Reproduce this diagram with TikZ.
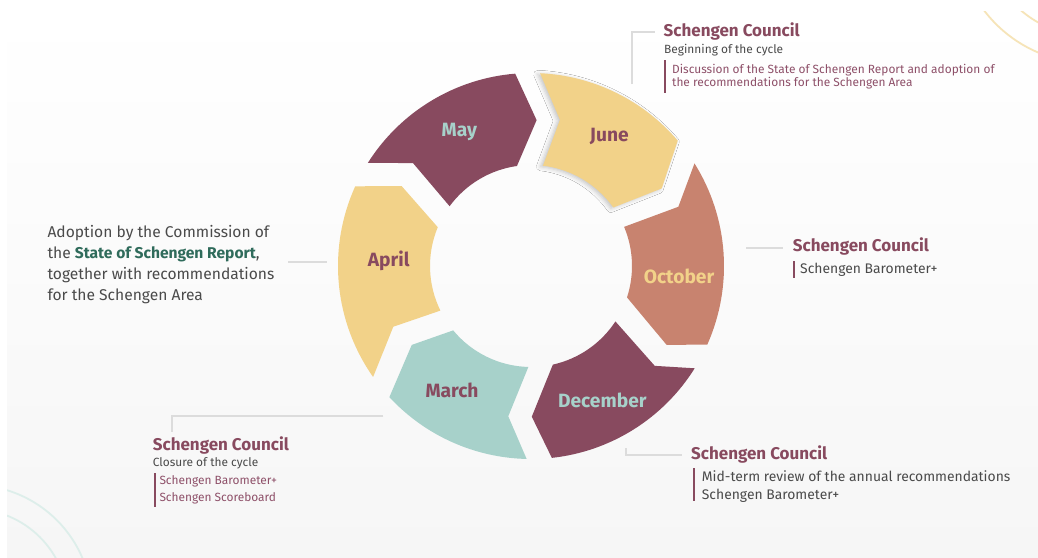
\documentclass[tikz,border=0pt]{standalone}
\usepackage{fontspec}
\setmainfont{Fira Sans}
\usetikzlibrary{shadows.blur}
\definecolor{purpleD}{HTML}{884A5F}
\definecolor{yellowS}{HTML}{F2D289}
\definecolor{salmonO}{HTML}{C8836F}
\definecolor{tealM}{HTML}{A7D1CA}
\definecolor{grayline}{HTML}{DCDCDC}
\definecolor{textgray}{HTML}{4A4A4A}
\definecolor{textpurple}{HTML}{8E5069}
\definecolor{greenS}{HTML}{2F6B5B}
\definecolor{bgGray}{HTML}{F6F6F6}
\definecolor{decoY}{HTML}{F6E4B8}
\definecolor{decoT}{HTML}{DDEEEA}
\tikzset{
  mlabel/.style={font=\bfseries\fontsize{19.2}{21}\selectfont, inner sep=0pt},
  ctitle/.style={font=\bfseries\fontsize{17}{19}\selectfont, text=purpleD, inner sep=0pt, anchor=base west},
  cnote/.style={font=\fontsize{11.9}{14}\selectfont, inner sep=0pt, anchor=base west},
  cbody/.style={font=\fontsize{13.9}{16}\selectfont, text=textgray, inner sep=0pt, anchor=base west},
  cleft/.style={font=\fontsize{15.6}{18}\selectfont, text=textgray, inner sep=0pt, anchor=base west},
  cconn/.style={draw=grayline, line width=1.8pt},
  cbar/.style={draw=purpleD, line width=2.2pt},
  cdeco/.style={line width=1.8pt},
  segshape/.style={line join=round},
}
\begin{document}
\begin{tikzpicture}[x=1pt, y=1pt, yscale=-1]
\useasboundingbox (0,0) rectangle (1038,557);
\fill[white] (0,0) rectangle (1038,557);
\shade[top color=white, bottom color=bgGray] (7,11) rectangle (1038,557);
% decorations
\begin{scope}
  \clip (7,11) rectangle (1038,557);
  \draw[cdeco, decoY] (1090,-70) circle[radius=133];
  \draw[cdeco, decoY] (1090,-70) circle[radius=106];
  \draw[cdeco, decoT] (-28,605) circle[radius=120];
  \draw[cdeco, decoT] (-28,605) circle[radius=96];
\end{scope}
% ring
\begin{scope}[shift={(531,266)}, yscale=-1]
  \fill[segshape, purpleD] (147.7:193) arc[start angle=147.7, end angle=94.7, radius=193]
     -- (87.8:146) -- (98:101) arc[start angle=98, end angle=143.7, radius=101]
     -- (138.9:156.6) -- cycle;
  \fill[segshape, yellowS, blur shadow={shadow xshift=-2.5pt, shadow yshift=-1pt, shadow opacity=22, shadow blur radius=4pt}]
     (87.3:193) arc[start angle=87.3, end angle=40.5, radius=193]
     -- (30.7:152) -- (35.4:101) arc[start angle=35.4, end angle=83.2, radius=101]
     -- (78.8:149) -- cycle;
  \fill[segshape, salmonO] (32.1:193) arc[start angle=32.1, end angle=-24, radius=193]
     -- (-30.2:157) -- (-18.1:101) arc[start angle=-18.1, end angle=22.8, radius=101]
     -- (21.9:158.8) -- cycle;
  \fill[segshape, purpleD] (-32:193) arc[start angle=-32, end angle=-83.8, radius=193]
     -- (-89.7:150.7) -- (-77.5:101) arc[start angle=-77.5, end angle=-33.3, radius=101]
     -- (-38.9:159) -- cycle;
  \fill[segshape, tealM] (-91.3:193) arc[start angle=-91.3, end angle=-137.2, radius=193]
     -- (-146.5:143) -- (-140.4:101) arc[start angle=-140.4, end angle=-91.5, radius=101]
     -- (-98.6:152) -- cycle;
  \fill[segshape, yellowS] (-144.9:193) arc[start angle=-144.9, end angle=-204.4, radius=193]
     -- (-211.7:152) -- (-202.6:101) arc[start angle=-202.6, end angle=-153.8, radius=101]
     -- (-156.2:150.5) -- cycle;
\end{scope}
% month labels
\node[mlabel, text=tealM] (may) at (459.3,131.7) {May};
\node[mlabel, text=purpleD] (june) at (609.3,136.7) {June};
\node[mlabel, text=purpleD] (april) at (388.7,261) {April};
\node[mlabel, text=yellowS] (october) at (679,276.7) {October};
\node[mlabel, text=purpleD] (march) at (452,390) {March};
\node[mlabel, text=tealM] (december) at (602.3,400) {December};
% top right annotation (June)
\coordinate (jA) at (632.3,84);
\coordinate (jB) at (655,31.7);
\draw[cconn] (jA) |- (jB);
\node[ctitle] (jt) at (663.5,36) {Schengen Council};
\node[cnote, text=textgray] (jn) at (664,53.3) {Beginning of the cycle};
\coordinate (jb1) at (664.8,60);
\coordinate (jb2) at (664.8,93);
\draw[cbar] (jb1) -- (jb2);
\node[cnote, text=textpurple] (jd1) at (672,73.3) {Discussion of the State of Schengen Report and adoption of};
\node[cnote, text=textpurple] (jd2) at (672,86.7) {the recommendations for the Schengen Area};
% left annotation (April)
\node[cleft] (a1) at (47.3,237.3) {Adoption by the Commission of};
\node[cleft] (a2) at (47.3,258.2) {the \textbf{\color{greenS}State of Schengen Report},};
\node[cleft] (a3) at (47.3,279.1) {together with recommendations};
\node[cleft] (a4) at (47.3,300) {for the Schengen Area};
\coordinate (aA) at (288,261.7);
\coordinate (aB) at (326.7,261.7);
\draw[cconn] (aA) -- (aB);
% right annotation (October)
\coordinate (oA) at (746,248.3);
\coordinate (oB) at (783.3,248.3);
\draw[cconn] (oA) -- (oB);
\node[ctitle] (ot) at (792.7,251.7) {Schengen Council};
\coordinate (ob1) at (794,261);
\coordinate (ob2) at (794,278);
\draw[cbar] (ob1) -- (ob2);
\node[cbody] (od) at (800,273.3) {Schengen Barometer+};
% bottom right annotation (December)
\coordinate (dA) at (626,448.3);
\coordinate (dB) at (681.7,455);
\draw[cconn] (dA) |- (dB);
\node[ctitle] (dt) at (691,459.3) {Schengen Council};
\coordinate (db1) at (694.3,468.3);
\coordinate (db2) at (694.3,501);
\draw[cbar] (db1) -- (db2);
\node[cbody] (dd1) at (701.7,481) {Mid-term review of the annual recommendations};
\node[cbody] (dd2) at (701.7,499.3) {Schengen Barometer+};
% bottom left annotation (March)
\coordinate (mA) at (383.3,416);
\coordinate (mB) at (171.7,431.7);
\draw[cconn] (mA) -| (mB);
\node[ctitle] (mt) at (152.7,450) {Schengen Council};
\node[cnote, text=textgray] (mn) at (152.7,466) {Closure of the cycle};
\coordinate (mb1) at (155.3,473);
\coordinate (mb2) at (155.3,507);
\draw[cbar] (mb1) -- (mb2);
\node[cnote, text=textpurple] (md1) at (159.3,484) {Schengen Barometer+};
\node[cnote, text=textpurple] (md2) at (159.3,501.7) {Schengen Scoreboard};
\end{tikzpicture}
\end{document}
